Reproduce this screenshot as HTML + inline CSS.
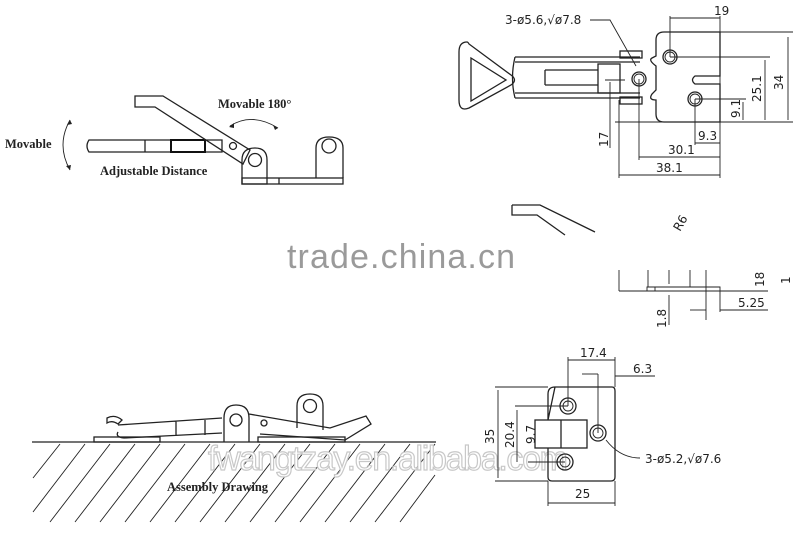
<!DOCTYPE html>
<html><head><meta charset="utf-8"><style>
html,body{margin:0;padding:0;background:#fff;width:800px;height:537px;overflow:hidden}
svg{display:block}
.s{stroke:#222;stroke-width:1.3;fill:none}
.t{stroke:#222;stroke-width:0.9;fill:none}
.d{font-family:"DejaVu Sans","Liberation Sans",sans-serif;font-size:12px;fill:#222}
.r{font-family:"Liberation Serif",serif;font-size:12.5px;font-weight:bold;fill:#222}
</style></head><body>
<svg width="800" height="537" viewBox="0 0 800 537" xmlns="http://www.w3.org/2000/svg">
<text x="287" y="268" font-family="Liberation Sans,sans-serif" font-size="34" fill="#9a9a9a" textLength="228">trade.china.cn</text>

<!-- TOP LEFT -->
<text x="5" y="148" class="r">Movable</text>
<path class="t" d="M70,120 Q56,145 70,170"/>
<path d="M70,120 l-3,5 l5,-1z M70,170 l-4,-4 l5,-1z" fill="#222"/>
<text x="218" y="108" class="r">Movable 180°</text>
<path class="t" d="M230,126 Q252,112 278,128"/>
<path d="M229,127 l5,-4 l0,5z M278,128 l-5,-3 l2,5z" fill="#222"/>
<path class="s" d="M89,140 L222,140 L222,152 L89,152 Q85,146 89,140Z"/>
<line class="s" x1="145" y1="140" x2="145" y2="152"/>
<line class="s" x1="171" y1="140" x2="171" y2="152"/>
<rect x="171" y="140" width="34" height="12" fill="none" stroke="#111" stroke-width="2"/>
<path class="s" d="M135,96 L163,96 L250,150 L243,164 L155,107 L135,107Z" fill="#fff"/>
<circle class="s" cx="233" cy="146" r="3.5"/>
<text x="100" y="175" class="r">Adjustable Distance</text>
<path class="s" d="M242,184 L242,160 Q242,148 255,148 Q267,148 267,160 L267,184Z" fill="#fff"/>
<circle class="s" cx="255" cy="160" r="6.5"/>
<rect class="s" x="242" y="178" width="101" height="6"/>
<line class="s" x1="279" y1="178" x2="279" y2="184"/>
<path class="s" d="M316,178 L316,148 Q316,137 329,137 Q343,137 343,148 L343,178"/>
<circle class="s" cx="329" cy="146" r="7"/>

<!-- TOP RIGHT -->
<text x="505" y="24" class="d" font-size="11">3-ø5.6,√ø7.8</text>
<path class="t" d="M590,20 L610,20 L636,66"/>
<path class="s" d="M467,42 Q459,42 459,52 L459,100 Q459,112 469,108 L511,85 Q518,80 511,75 L469,44 Q468,42 467,42Z"/>
<path class="s" d="M471,58 L471,101 L506,80Z"/>
<path class="s" d="M515,57 L640,57 M515,98 L640,98 M515,57 Q510,78 515,98 M515,62 L640,62 M515,93 L640,93"/>
<rect class="s" x="598" y="64" width="22" height="29"/>
<line class="s" x1="545" y1="70" x2="598" y2="70"/><line class="s" x1="545" y1="85" x2="598" y2="85"/>
<line class="s" x1="545" y1="70" x2="545" y2="85"/>
<rect class="s" x="620" y="51" width="22" height="7"/><rect class="s" x="620" y="97" width="22" height="7"/>
<path class="s" d="M664,32 L720,32 L720,76 L695,76 Q690,80 695,84 L720,84 L720,122 L664,122 Q656,122 656,114 L656,100 Q648,100 652,94 L656,90 L656,66 Q648,60 652,58 L656,56 L656,40 Q656,32 664,32Z"/>
<circle class="s" cx="670" cy="57" r="7"/><circle class="t" cx="670" cy="57" r="5"/>
<circle class="s" cx="639" cy="79" r="7"/><circle class="t" cx="639" cy="79" r="5"/>
<circle class="s" cx="695" cy="99" r="7"/><circle class="t" cx="695" cy="99" r="5"/>
<g class="t">
<line x1="670" y1="18" x2="720" y2="18"/><line x1="670" y1="16" x2="670" y2="57"/><line x1="720" y1="16" x2="720" y2="178"/>
<line x1="720" y1="32" x2="793" y2="32"/><line x1="615" y1="122" x2="793" y2="122"/>
<line x1="788" y1="37" x2="788" y2="120"/><line x1="670" y1="57" x2="770" y2="57"/>
<line x1="765" y1="60" x2="765" y2="120"/><line x1="695" y1="99" x2="746" y2="99"/>
<line x1="743" y1="102" x2="743" y2="120"/>
<line x1="695" y1="99" x2="695" y2="145"/><line x1="695" y1="143" x2="720" y2="143"/>
<line x1="639" y1="79" x2="639" y2="160"/><line x1="639" y1="157" x2="720" y2="157"/>
<line x1="619" y1="100" x2="619" y2="178"/><line x1="619" y1="175" x2="720" y2="175"/>
<line x1="610" y1="82" x2="610" y2="148"/><line x1="605" y1="80" x2="625" y2="80"/>
</g>
<text x="714" y="15" class="d">19</text>
<text class="d" transform="translate(783,90) rotate(-90)">34</text>
<text class="d" transform="translate(761,102) rotate(-90)">25.1</text>
<text class="d" transform="translate(740,118) rotate(-90)">9.1</text>
<text x="698" y="140" class="d">9.3</text>
<text x="668" y="154" class="d">30.1</text>
<text x="656" y="172" class="d">38.1</text>
<text class="d" transform="translate(608,147) rotate(-90)">17</text>

<!-- MIDDLE RIGHT -->
<path class="s" d="M512,205 L540,205 L595,232 M512,205 L512,215 L537,215 L565,235"/>
<text class="d" font-size="10" transform="translate(680,232) rotate(-60)">R6</text>
<g class="t">
<line x1="619" y1="270" x2="619" y2="291"/><line x1="619" y1="291" x2="768" y2="291"/>
<path d="M647,291 L647,287 L720,287 L720,294"/><line x1="655" y1="287" x2="655" y2="291"/>
<line x1="648" y1="270" x2="648" y2="287"/><line x1="690" y1="270" x2="690" y2="287"/>
<line x1="706" y1="270" x2="706" y2="320"/><line x1="720" y1="294" x2="720" y2="312"/>
<line x1="690" y1="310" x2="706" y2="310"/><line x1="720" y1="310" x2="768" y2="310"/>
<line x1="669" y1="270" x2="669" y2="284"/><line x1="669" y1="295" x2="669" y2="325"/>
</g>
<text class="d" transform="translate(666,328) rotate(-90)">1.8</text>
<text x="738" y="307" class="d">5.25</text>
<text class="d" transform="translate(764,287) rotate(-90)">18</text>
<text class="d" transform="translate(790,284) rotate(-90)">1</text>

<!-- ASSEMBLY -->
<line class="s" x1="32" y1="442" x2="436" y2="442"/>
<g class="t">
<path d="M60,444 L33,478 M85,444 L33,512 M110,444 L50,522 M135,444 L75,522 M160,444 L100,522 M185,444 L125,522 M210,444 L150,522 M235,444 L175,522 M260,444 L200,522 M285,444 L225,522 M310,444 L250,522 M335,444 L275,522 M360,444 L300,522 M385,444 L325,522 M410,444 L350,522 M435,444 L375,522 M435,475 L400,522"/>
</g>
<text x="208" y="470" font-family="Liberation Sans,sans-serif" font-size="34" fill="#fff" stroke="#c8c8c8" stroke-width="1.2" textLength="360">fwangtzay.en.alibaba.com</text>
<text x="167" y="491" class="r">Assembly Drawing</text>
<rect class="s" x="94" y="437" width="66" height="5"/>
<rect class="s" x="258" y="437" width="87" height="5"/>
<path class="s" d="M107,418 Q115,414 122,420 L118,424 Q112,420 107,423Z"/>
<path class="s" d="M118,425 L222,418 M118,432 Q115,437 124,438 L222,433 M176,421 L176,436 M205,420 L205,435"/>
<path class="s" d="M224,442 L224,418 Q224,405 236,405 Q249,405 249,418 L249,442"/>
<circle class="s" cx="236" cy="420" r="6"/>
<path class="s" d="M249,414 L330,428 L366,416 L371,424 L345,440 L260,434"/>
<circle class="s" cx="264" cy="423" r="3"/>
<path class="s" d="M297,428 L297,406 Q297,394 310,394 Q323,394 323,406 L323,430"/>
<circle class="s" cx="310" cy="406" r="6.5"/>

<!-- BOTTOM RIGHT -->
<path class="s" d="M555,387 L612,387 Q615,387 615,391 L615,477 Q615,481 611,481 L552,481 Q548,481 548,477 L548,448 M548,420 L548,394 Q548,387 555,387Z"/>
<rect class="s" x="535" y="420" width="52" height="28"/>
<line class="s" x1="561" y1="420" x2="561" y2="448"/>
<circle class="s" cx="568" cy="406" r="8"/><circle class="t" cx="568" cy="406" r="5"/>
<circle class="s" cx="598" cy="433" r="8"/><circle class="t" cx="598" cy="433" r="5"/>
<circle class="s" cx="565" cy="462" r="8"/><circle class="t" cx="565" cy="462" r="5"/>
<g class="t">
<line x1="568" y1="357" x2="568" y2="406"/><line x1="615" y1="357" x2="615" y2="387"/>
<line x1="568" y1="360" x2="615" y2="360"/>
<line x1="582" y1="374" x2="598" y2="374"/><line x1="598" y1="374" x2="598" y2="433"/>
<line x1="615" y1="376" x2="655" y2="376"/>
<line x1="495" y1="387" x2="548" y2="387"/><line x1="495" y1="481" x2="548" y2="481"/>
<line x1="498" y1="390" x2="498" y2="478"/>
<line x1="515" y1="406" x2="568" y2="406"/><line x1="517" y1="410" x2="517" y2="462"/>
<line x1="528" y1="462" x2="565" y2="462"/>
<line x1="548" y1="481" x2="548" y2="506"/><line x1="615" y1="481" x2="615" y2="506"/>
<line x1="548" y1="503" x2="615" y2="503"/>
<path d="M606,440 Q620,458 640,458"/>
</g>
<text x="580" y="357" class="d">17.4</text>
<text x="633" y="373" class="d">6.3</text>
<text class="d" transform="translate(494,444) rotate(-90)">35</text>
<text class="d" transform="translate(514,448) rotate(-90)">20.4</text>
<text class="d" transform="translate(535,444) rotate(-90)">9.7</text>
<text x="575" y="498" class="d">25</text>
<text x="645" y="463" class="d" font-size="11">3-ø5.2,√ø7.6</text>
</svg>
</body></html>
